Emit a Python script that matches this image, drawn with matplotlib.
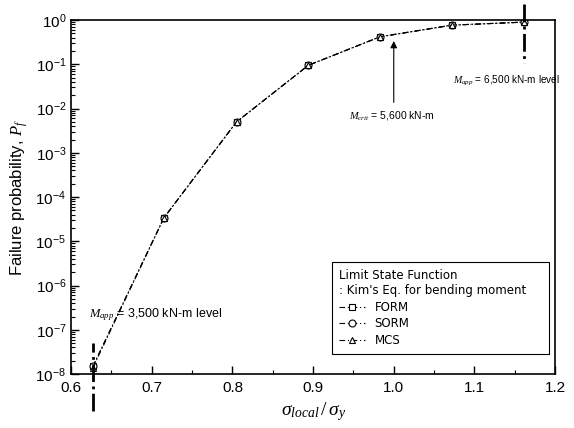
import numpy as np
import matplotlib
matplotlib.use("Agg")
import matplotlib.pyplot as plt
from matplotlib.ticker import LogLocator, MultipleLocator, NullFormatter

plt.rcParams['font.family'] = ['Liberation Sans', 'DejaVu Sans']
plt.rcParams['mathtext.fontset'] = 'custom'
plt.rcParams['mathtext.it'] = 'Liberation Serif:italic'
plt.rcParams['mathtext.rm'] = 'Liberation Serif'

# stress ratio sigma_local / sigma_y and failure probabilities
stress_ratio = [0.627, 0.715, 0.805, 0.894, 0.983, 1.072, 1.161]
pf_form = [1.5e-8, 3.4e-5, 5.0e-3, 9.5e-2, 4.2e-1, 7.7e-1, 9.0e-1]
pf_sorm = [1.5e-8, 3.4e-5, 5.0e-3, 9.5e-2, 4.2e-1, 7.7e-1, 9.0e-1]
pf_mcs = [1.4e-8, 3.4e-5, 5.0e-3, 9.5e-2, 4.2e-1, 7.7e-1, 9.0e-1]

x_low, x_crit, x_high = 0.627, 1.0, 1.161

fig = plt.figure(figsize=(5.74, 4.28), dpi=100)
ax = fig.add_axes([0.124, 0.126, 0.843, 0.827])

line_kw = dict(color='black', ls=(0, (5, 2.5, 1, 2.5)), lw=0.8, mfc='white',
               mec='black', ms=5, mew=0.8)
ax.plot(stress_ratio, pf_form, marker='s', label='FORM', **line_kw)
ax.plot(stress_ratio, pf_sorm, marker='o', label='SORM', **line_kw)
ax.plot(stress_ratio, pf_mcs, marker='^', label='MCS', **line_kw)

ax.set_yscale('log')
ax.set_xlim(0.6, 1.2)
ax.set_ylim(1e-8, 1)
ax.xaxis.set_major_locator(MultipleLocator(0.1))
ax.xaxis.set_minor_locator(MultipleLocator(0.05))
ax.yaxis.set_major_locator(LogLocator(base=10, numticks=12))
ax.yaxis.set_minor_locator(LogLocator(base=10, subs=np.arange(2, 10), numticks=12))
ax.yaxis.set_minor_formatter(NullFormatter())
ax.tick_params(which='both', direction='in', top=False, right=False, labelsize=11)
ax.tick_params(which='major', length=6, width=1)
ax.tick_params(which='minor', length=3, width=0.8)
ax.tick_params(axis='x', pad=5)
for s in ax.spines.values():
    s.set_linewidth(1.2)

ax.set_ylabel('Failure probability, $P_f$', fontsize=12)
ax.set_xlabel(r'$\sigma_{local}\,/\,\sigma_y$', fontsize=14)

# level markers
ax.plot([x_low, x_low], [1.5e-9, 5e-8], color='black', ls='-.', lw=2, clip_on=False)
ax.plot([x_high, x_high], [2.3, 0.11], color='black', ls='-.', lw=2, clip_on=False)
ax.text(0.622, 1.9e-7, r'$M_{app}$ = 3,500 kN-m level', fontsize=9)
ax.text(1.073, 3.6e-2, r'$M_{app}$ = 6,500 kN-m level', fontsize=7.2)
ax.annotate('', xy=(x_crit, 0.39), xytext=(x_crit, 1.2e-2),
            arrowprops=dict(arrowstyle='-|>', color='black', lw=0.8, mutation_scale=10))
ax.text(0.945, 6.0e-3, r'$M_{crit}$ = 5,600 kN-m', fontsize=7.5)

leg = ax.legend(title="Limit State Function\n: Kim's Eq. for bending moment",
                loc='lower left', bbox_to_anchor=(0.527, 0.04, 0.473, 0.27),
                mode='expand', fancybox=False, edgecolor='black', framealpha=1,
                handlelength=2.2, borderpad=0.6, labelspacing=0.3,
                prop={'family': 'DejaVu Sans', 'size': 8.5})
leg.get_title().set_family('DejaVu Sans')
leg.get_title().set_fontsize(8.5)
leg._legend_box.align = 'left'
leg.get_frame().set_linewidth(0.8)

fig.savefig('out.png', dpi=100)
